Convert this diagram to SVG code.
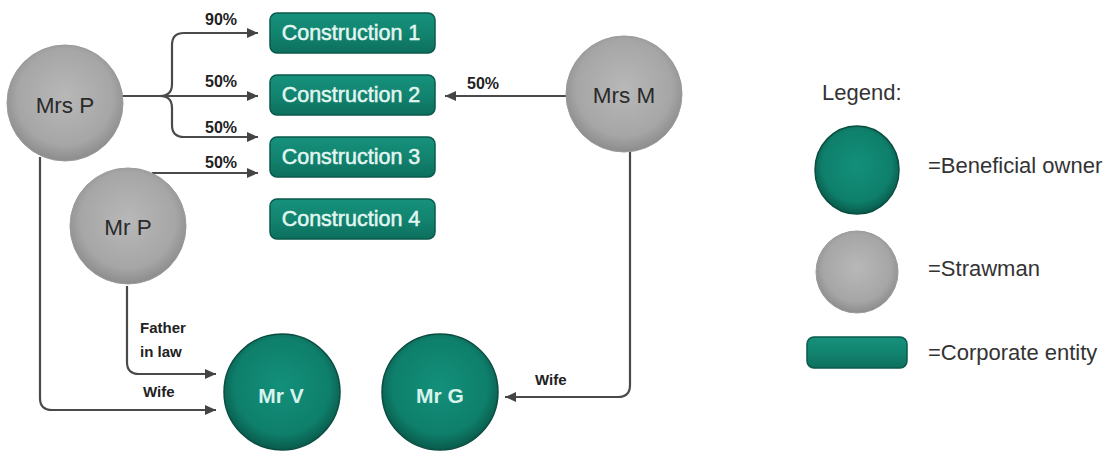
<svg xmlns="http://www.w3.org/2000/svg" width="1114" height="456" viewBox="0 0 1114 456">
<defs>
<radialGradient id="gGray" cx="50%" cy="45%" r="55%">
<stop offset="0" stop-color="#b8b8b8"/>
<stop offset="0.75" stop-color="#a6a6a6"/>
<stop offset="1" stop-color="#8c8c8c"/>
</radialGradient>
<radialGradient id="gGreen" cx="50%" cy="45%" r="55%">
<stop offset="0" stop-color="#13907a"/>
<stop offset="0.75" stop-color="#0e7f6b"/>
<stop offset="1" stop-color="#095a4b"/>
</radialGradient>
<linearGradient id="gBox" x1="0" y1="0" x2="0" y2="1">
<stop offset="0" stop-color="#16917d"/>
<stop offset="0.5" stop-color="#12846f"/>
<stop offset="1" stop-color="#0d6f5e"/>
</linearGradient>
<marker id="arr" markerUnits="userSpaceOnUse" markerWidth="12" markerHeight="10" refX="11" refY="5" orient="auto">
<path d="M0,0 L11,5 L0,10 Z" fill="#444"/>
</marker>
<style>
.gray{fill:url(#gGray);stroke:#9a9a9a;stroke-width:1}
.green{fill:url(#gGreen);stroke:#0a4d41;stroke-width:1.5}
.box{fill:url(#gBox);stroke:#0a5a4c;stroke-width:1.5}
.ptxt{font-family:"Liberation Sans",Arial,sans-serif;font-size:22.5px;fill:#2a2a2a;text-anchor:middle}
.gtxt{font-family:"Liberation Sans",Arial,sans-serif;font-size:21px;font-weight:bold;fill:#d6f3ec;text-anchor:middle}
.btxt{font-family:"Liberation Sans",Arial,sans-serif;font-size:21.5px;fill:#e2f6f1;stroke:#e2f6f1;stroke-width:0.5;text-anchor:middle}
.lbl{font-family:"Liberation Sans",Arial,sans-serif;font-size:15px;font-weight:bold;fill:#222}
.pct{font-family:"Liberation Sans",Arial,sans-serif;font-size:16px;font-weight:bold;fill:#222}
.leg{font-family:"Liberation Sans",Arial,sans-serif;font-size:22px;fill:#333}
.ln{fill:none;stroke:#4a4a4a;stroke-width:2.2;marker-end:url(#arr)}
</style>
</defs>
<rect width="1114" height="456" fill="#ffffff"/>

<g id="connectors">
<path class="ln" d="M120 96 H258"/>
<path class="ln" d="M160 96 Q172 96 172 84 V45 Q172 33 184 33 H258"/>
<path class="ln" d="M160 96 Q172 96 172 108 V125 Q172 137 184 137 H258"/>
<path class="ln" d="M152 173 H258"/>
<path class="ln" d="M568 96 H445"/>
<path class="ln" d="M40 157 V398 Q40 410 52 410 H216"/>
<path class="ln" d="M127 286 V362 Q127 374 139 374 H216"/>
<path class="ln" d="M630 152 V385 Q630 397 618 397 H505"/>
<text class="pct" x="205" y="25">90%</text>
<text class="pct" x="205" y="87">50%</text>
<text class="pct" x="205" y="133">50%</text>
<text class="pct" x="205" y="168">50%</text>
<text class="pct" x="467" y="89">50%</text>
<text class="lbl" x="140" y="333">Father</text>
<text class="lbl" x="140" y="357">in law</text>
<text class="lbl" x="143" y="397">Wife</text>
<text class="lbl" x="535" y="385">Wife</text>
</g>

<g id="mrsP">
<circle class="gray" cx="65" cy="103" r="58"/>
<text class="ptxt" x="65" y="113">Mrs P</text>
</g>
<g id="mrP">
<circle class="gray" cx="128" cy="226" r="58"/>
<text class="ptxt" x="128" y="235">Mr P</text>
</g>
<g id="mrsM">
<circle class="gray" cx="624" cy="94" r="58"/>
<text class="ptxt" x="624" y="103">Mrs M</text>
</g>

<g id="construction1">
<rect class="box" x="270" y="13" width="165" height="40" rx="7"/>
<text class="btxt" x="351" y="40">Construction 1</text>
</g>
<g id="construction2">
<rect class="box" x="270" y="75" width="165" height="40" rx="7"/>
<text class="btxt" x="351" y="102">Construction 2</text>
</g>
<g id="construction3">
<rect class="box" x="270" y="137" width="165" height="40" rx="7"/>
<text class="btxt" x="351" y="164">Construction 3</text>
</g>
<g id="construction4">
<rect class="box" x="270" y="199" width="165" height="40" rx="7"/>
<text class="btxt" x="351" y="226">Construction 4</text>
</g>

<g id="mrV">
<circle class="green" cx="282" cy="392" r="58"/>
<text class="gtxt" x="281" y="403">Mr V</text>
</g>
<g id="mrG">
<circle class="green" cx="440" cy="392" r="58"/>
<text class="gtxt" x="440" y="403">Mr G</text>
</g>

<g id="legend">
<text class="leg" x="822" y="100">Legend:</text>
<ellipse class="green" cx="857" cy="170" rx="42" ry="44"/>
<text class="leg" x="928" y="173">=Beneficial owner</text>
<circle class="gray" cx="857" cy="272" r="41"/>
<text class="leg" x="928" y="276">=Strawman</text>
<rect class="box" x="807" y="337" width="100" height="31" rx="7"/>
<text class="leg" x="928" y="360">=Corporate entity</text>
</g>
</svg>
